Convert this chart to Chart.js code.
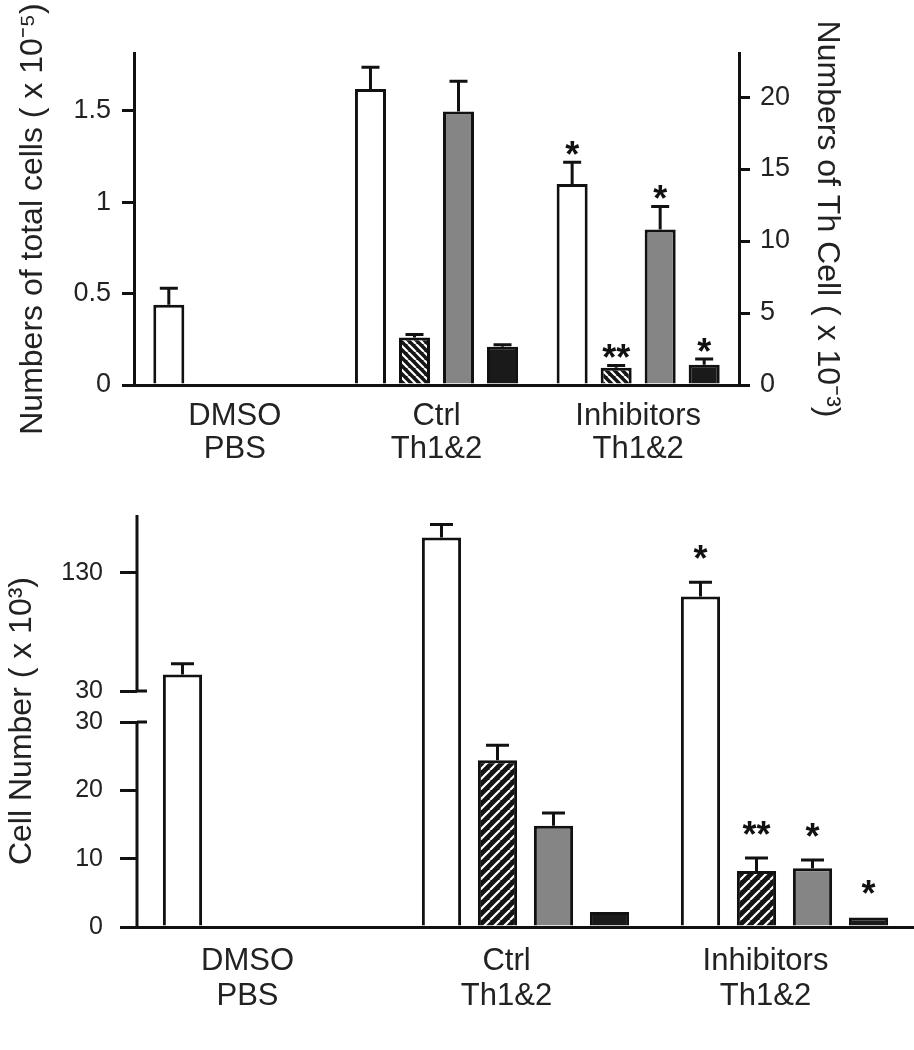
<!DOCTYPE html>
<html lang="en">
<head>
<meta charset="UTF-8">
<title>Th cell numbers</title>
<script src="https://cdn.jsdelivr.net/npm/chart.js"></script>
<style>
  body { margin: 0; background: #fff; }
  canvas { position: absolute; left: 0; }
</style>
</head>
<body>
<canvas id="topChart" width="914" height="470" style="top:0"></canvas>
<canvas id="bottomChart" width="914" height="580" style="top:470px"></canvas>
<script>
const groups = [['DMSO', 'PBS'], ['Ctrl', 'Th1&2'], ['Inhibitors', 'Th1&2']];

// top panel: total cells (x10^5, left axis), Th subsets (x10^3, right axis)
const topTotal = [0.44, 1.62, 1.10];
const topTotalErr = [0.09, 0.12, 0.12];
const topHatched = [null, 3.3, 1.2];
const topHatchedErr = [null, 0.2, 0.15];
const topGray = [null, 19.0, 10.8];
const topGrayErr = [null, 2.1, 1.6];
const topBlack = [null, 2.65, 1.4];
const topBlackErr = [null, 0.15, 0.4];
const topTotalStars = [null, null, '*'];
const topHatchedStars = [null, null, '**'];
const topGrayStars = [null, null, '*'];
const topBlackStars = [null, null, '*'];
const topLeftTicks = [0, 0.5, 1, 1.5];
const topRightTicks = [0, 5, 10, 15, 20];

// bottom panel: cell number (x10^3), axis broken at 30
const botTotal = [44, 160, 110];
const botTotalErr = [9, 11, 12];
const botHatched = [null, 24.4, 8.2];
const botHatchedErr = [null, 2.2, 1.9];
const botGray = [null, 14.8, 8.6];
const botGrayErr = [null, 1.9, 1.2];
const botBlack = [null, 2.2, 1.4];
const botTotalStars = [null, null, '*'];
const botHatchedStars = [null, null, '**'];
const botGrayStars = [null, null, '*'];
const botBlackStars = [null, null, '*'];
const botLowerTicks = [0, 10, 20, 30];
const botUpperTicks = [30, 130];

const INK = '#111';
const TXT = '#222';
const FONT = "'Liberation Sans', Arial, Helvetica, sans-serif";
Chart.defaults.font.family = FONT;
Chart.defaults.color = TXT;

function hatch(dir, s) {
  const c = document.createElement('canvas');
  c.width = c.height = s;
  const g = c.getContext('2d');
  g.fillStyle = '#151515';
  g.fillRect(0, 0, s, s);
  g.strokeStyle = '#fff';
  g.lineWidth = 2.2;
  g.beginPath();
  for (const o of [-s, 0, s]) {
    if (dir > 0) { g.moveTo(o, s); g.lineTo(o + s, 0); }
    else { g.moveTo(o, 0); g.lineTo(o + s, s); }
  }
  g.stroke();
  return g.createPattern(c, 'repeat');
}

// linear scale with a gap: 0..30 at the bottom, 30..max above the gap
const BRK = { at: 30, gap: 31, lowShare: 205 / 381 };
class BrokenScale extends Chart.LinearScale {
  pixelFor(v, upper) {
    const h = this.bottom - this.top - BRK.gap;
    const lowH = h * BRK.lowShare;
    if (!upper) return this.bottom - (v - this.min) / (BRK.at - this.min) * lowH;
    return this.bottom - lowH - BRK.gap - (v - BRK.at) / (this.max - BRK.at) * (h - lowH);
  }
  getPixelForValue(v) { return this.pixelFor(v, v > BRK.at); }
  getPixelForTick(i) {
    const t = this.ticks[i];
    return t ? this.pixelFor(t.value, t.upper) : null;
  }
}
BrokenScale.id = 'broken';
BrokenScale.defaults = Chart.LinearScale.defaults;
Chart.register(BrokenScale);

const errorBars = {
  id: 'errorBars',
  afterDatasetsDraw(chart, args, opts) {
    const ctx = chart.ctx;
    ctx.save();
    chart.data.datasets.forEach((ds, i) => {
      const meta = chart.getDatasetMeta(i);
      const scale = chart.scales[ds.yAxisID || 'y'];
      meta.data.forEach((bar, j) => {
        const v = ds.data[j];
        if (v == null) return;
        let top = bar.y;
        const e = ds.err && ds.err[j];
        if (e) {
          const ye = scale.getPixelForValue(v + e);
          ctx.strokeStyle = INK;
          ctx.lineWidth = 3;
          ctx.beginPath();
          ctx.moveTo(bar.x, bar.y);
          ctx.lineTo(bar.x, ye);
          ctx.moveTo(bar.x - opts.cap / 2, ye);
          ctx.lineTo(bar.x + opts.cap / 2, ye);
          ctx.stroke();
          top = ye;
        }
        const s = ds.stars && ds.stars[j];
        if (s) {
          ctx.fillStyle = INK;
          ctx.font = 'bold ' + opts.starSize + 'px ' + FONT;
          ctx.textAlign = 'center';
          ctx.textBaseline = 'alphabetic';
          ctx.fillText(s, bar.x, top - opts.starGap + opts.starSize * 0.58);
        }
      });
    });
    ctx.restore();
  }
};

const brokenAxis = {
  id: 'brokenAxis',
  afterDraw(chart) {
    const s = chart.scales.y;
    if (!(s instanceof BrokenScale)) return;
    const ctx = chart.ctx, x = s.right;
    const lo = s.pixelFor(BRK.at, false), hi = s.pixelFor(BRK.at, true);
    ctx.save();
    ctx.strokeStyle = INK;
    ctx.lineWidth = 3;
    ctx.beginPath();
    ctx.moveTo(x, s.bottom + 1.5); ctx.lineTo(x, lo);
    ctx.moveTo(x, hi); ctx.lineTo(x, s.top);
    ctx.moveTo(x, lo); ctx.lineTo(x + 10, lo);
    ctx.moveTo(x, hi); ctx.lineTo(x + 10, hi);
    ctx.stroke();
    ctx.restore();
  }
};

function bars(data, err, stars, fill, axis) {
  return { data, err, stars, yAxisID: axis, backgroundColor: fill, borderColor: INK, borderWidth: 3 };
}

function yTicks(list) {
  return s => { s.ticks = list.map(v => ({ value: v })); };
}

new Chart(document.getElementById('topChart'), {
  type: 'bar',
  data: {
    labels: groups,
    datasets: [
      bars(topTotal, topTotalErr, topTotalStars, '#fff', 'y'),
      bars(topHatched, topHatchedErr, topHatchedStars, hatch(-1, 8), 'y1'),
      bars(topGray, topGrayErr, topGrayStars, '#858585', 'y1'),
      bars(topBlack, topBlackErr, topBlackStars, '#1a1a1a', 'y1')
    ]
  },
  options: {
    responsive: false,
    animation: false,
    events: [],
    categoryPercentage: 0.873,
    barPercentage: 0.705,
    layout: { padding: { top: 53 } },
    plugins: {
      legend: { display: false },
      tooltip: { enabled: false },
      errorBars: { cap: 18, starSize: 36, starGap: 16 }
    },
    scales: {
      x: {
        grid: { display: false, drawTicks: false },
        border: { color: INK, width: 3 },
        ticks: { font: { size: 31, lineHeight: 1.07 }, padding: 15, maxRotation: 0, autoSkip: false },
        afterFit: s => { s.height = 85; }
      },
      y: {
        position: 'left',
        min: 0,
        max: 1.8175,
        afterBuildTicks: yTicks(topLeftTicks),
        grid: { drawOnChartArea: false, color: INK, lineWidth: 3, tickLength: 12 },
        border: { color: INK, width: 3 },
        ticks: { font: { size: 27 }, padding: 11, autoSkip: false, callback: v => String(v) },
        title: { display: true, text: 'Numbers of total cells ( x 10⁻⁵)', font: { size: 32 }, padding: { top: 14, bottom: 0 } },
        afterFit: s => { s.width = 134; }
      },
      y1: {
        position: 'right',
        min: 0,
        max: 23.06,
        afterBuildTicks: yTicks(topRightTicks),
        grid: { drawOnChartArea: false, color: INK, lineWidth: 3, tickLength: 11 },
        border: { color: INK, width: 3 },
        ticks: { font: { size: 27 }, padding: 10, autoSkip: false, callback: v => String(v) },
        title: { display: true, text: 'Numbers of Th Cell ( x 10⁻³)', font: { size: 32 }, padding: { top: 68, bottom: 0 } },
        afterFit: s => { s.width = 175; }
      }
    }
  },
  plugins: [errorBars]
});

new Chart(document.getElementById('bottomChart'), {
  type: 'bar',
  data: {
    labels: groups,
    datasets: [
      bars(botTotal, botTotalErr, botTotalStars, '#fff', 'y'),
      bars(botHatched, botHatchedErr, botHatchedStars, hatch(1, 10), 'y'),
      bars(botGray, botGrayErr, botGrayStars, '#858585', 'y'),
      bars(botBlack, null, botBlackStars, '#1a1a1a', 'y')
    ]
  },
  options: {
    responsive: false,
    animation: false,
    events: [],
    categoryPercentage: 0.865,
    barPercentage: 0.70,
    layout: { padding: { top: 45 } },
    plugins: {
      legend: { display: false },
      tooltip: { enabled: false },
      errorBars: { cap: 23, starSize: 36, starGap: 32 }
    },
    scales: {
      x: {
        grid: { display: false, drawTicks: false },
        border: { color: INK, width: 3 },
        ticks: { font: { size: 31, lineHeight: 1.13 }, padding: 17, labelOffset: -19, maxRotation: 0, autoSkip: false },
        afterFit: s => { s.height = 123; }
      },
      y: {
        type: 'broken',
        position: 'left',
        min: 0,
        max: 179,
        afterBuildTicks: s => {
          s.ticks = botLowerTicks.map(v => ({ value: v }))
            .concat(botUpperTicks.map(v => ({ value: v, upper: true })));
        },
        grid: { drawOnChartArea: false, color: INK, lineWidth: 3, tickLength: 17 },
        border: { display: false },
        ticks: { font: { size: 25 }, padding: 17, autoSkip: false, callback: v => String(v) },
        title: { display: true, text: 'Cell Number ( x 10³)', font: { size: 32 }, padding: { top: 3, bottom: 0 } },
        afterFit: s => { s.width = 137; }
      }
    }
  },
  plugins: [errorBars, brokenAxis]
});
</script>
</body>
</html>
